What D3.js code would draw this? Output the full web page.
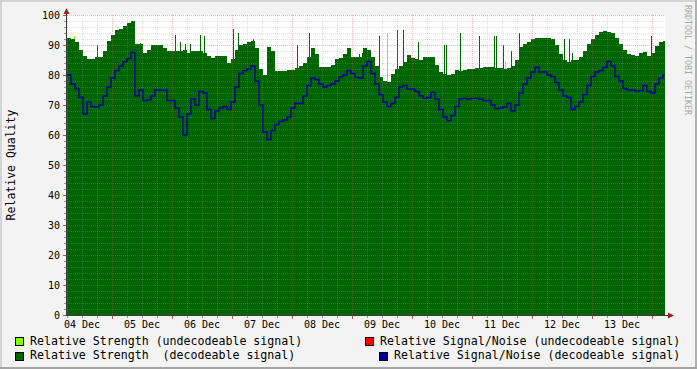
<!DOCTYPE html>
<html><head><meta charset="utf-8">
<script src="https://cdn.jsdelivr.net/npm/d3@7"></script>
<style>
body{margin:0;background:#f3f3f3}
svg{display:block}
text{font-family:"DejaVu Sans Mono",monospace}
</style>
</head><body>
<svg id="c" width="697" height="369"></svg>
<script>
// ---- data ----
const startTime = "2008-12-04T06:00:00Z";
const endTime = "2008-12-14T05:12:00Z";
const stepMinutes = 96;

// Relative Strength (decodeable signal), one value per 96-minute step
const strength = [
  92.5, 92, 91, 88.5, 86.5, 85.2, 85.2, 86, 86, 88,
  91.5, 93.3, 95, 95.5, 96.5, 97.2, 98, 90.5, 90.5, 87.5,
  88.3, 90, 90, 90, 89, 88, 88, 88, 88, 88.3,
  87.5, 88, 88, 88, 87.5, 86.5, 85.8, 86.5, 86.5, 86.5,
  84, 85.5, 88.5, 90, 90.5, 91, 91.5, 89, 82, 80,
  89.5, 88, 81.3, 81.3, 81.5, 81.8, 81.8, 82.5, 83, 84,
  86, 89, 87, 82.8, 82.7, 82.7, 83.5, 85.5, 85.6, 87,
  89, 86, 86, 86, 89, 88.5, 86, 83, 79.5, 78,
  77.8, 80.5, 82, 83, 84.5, 86.8, 85.8, 85.3, 85, 86,
  86, 86, 83.5, 81, 80.5, 80, 80.5, 81.6, 81.3, 81.8,
  82, 82, 82.2, 82.5, 82.8, 82.8, 82.8, 82.5, 82.5, 82,
  82.5, 83, 85, 89.5, 90.5, 91, 92, 92.3, 92.5, 92.5,
  92.5, 92, 90, 87, 85, 84.5, 85, 85, 86, 88,
  90.5, 92, 93.5, 94.5, 94.8, 94.5, 94, 92.5, 90.5, 88.5,
  87, 86.8, 86.5, 87.5, 87.8, 86.5, 87.5, 89.8, 91, 91.5
];

// Relative Signal/Noise (decodeable signal), one value per 96-minute step
const signalNoise = [
  80, 77, 75.5, 72.5, 67, 71, 69.5, 69.4, 70, 73,
  76, 79, 81.5, 83, 84.4, 85.5, 87.5, 73, 75, 71.5,
  71.7, 73, 75, 75, 75, 71.5, 71.5, 69, 66, 60,
  67, 72, 70, 74.5, 74, 68.5, 65.5, 68, 69, 69.5,
  68.5, 71, 76, 80.5, 81.5, 82, 83, 78, 70, 61,
  58.5, 61.5, 63.5, 64.5, 65, 66, 69, 70.5, 70.5, 73,
  76.5, 79, 78.5, 77, 76, 76.5, 77, 78, 79.4, 80,
  81.5, 80.5, 79.3, 79, 83, 84.5, 80.5, 77, 73.5, 71,
  69.5, 70.5, 72.5, 76, 76.5, 75.3, 75.3, 74.5, 73, 72.2,
  72.5, 74.2, 72, 68.5, 66, 64.8, 66.5, 69.5, 72, 72.2,
  72, 72.2, 72.2, 72, 71.5, 71.5, 70, 68.8, 69, 69.4,
  70.5, 68, 70, 74, 77, 79, 81, 82.5, 81, 81,
  80, 79.5, 77.5, 75, 73, 72.5, 68.5, 69.5, 71, 73.5,
  76.5, 79.5, 81, 81.5, 82.5, 84.5, 83, 79.5, 78, 75.5,
  75, 75, 74.7, 74.7, 76.5, 74.5, 74, 77, 79, 80
];

// short single-sample peaks of decodeable strength
const strengthSpikes = [
  ["2008-12-04T18:00Z", 90], ["2008-12-05T11:12Z", 90.6], ["2008-12-06T01:12Z", 93.3],
  ["2008-12-06T03:12Z", 91], ["2008-12-06T05:12Z", 90.5], ["2008-12-06T07:12Z", 90.5],
  ["2008-12-06T11:12Z", 93.3], ["2008-12-06T12:48Z", 93], ["2008-12-07T00:24Z", 95.2],
  ["2008-12-07T02:24Z", 94], ["2008-12-07T08:24Z", 92], ["2008-12-08T02:00Z", 90],
  ["2008-12-08T06:48Z", 94.1], ["2008-12-09T02:48Z", 87], ["2008-12-09T04:00Z", 87.5],
  ["2008-12-09T10:48Z", 93], ["2008-12-09T18:00Z", 95], ["2008-12-09T20:24Z", 95],
  ["2008-12-10T02:24Z", 91], ["2008-12-10T12:48Z", 90], ["2008-12-10T13:36Z", 90],
  ["2008-12-10T19:12Z", 94], ["2008-12-11T02:48Z", 93], ["2008-12-11T08:48Z", 93],
  ["2008-12-11T09:36Z", 93], ["2008-12-11T12:24Z", 90], ["2008-12-11T15:36Z", 88],
  ["2008-12-11T18:48Z", 94], ["2008-12-12T12:48Z", 92], ["2008-12-12T14:48Z", 92],
  ["2008-12-12T16:00Z", 87.5], ["2008-12-13T23:36Z", 93]
];

// Relative Strength (undecodeable signal)
const undecodeableStrength = [
  ["2008-12-04T08:48Z", 93], ["2008-12-09T06:24Z", 88], ["2008-12-09T14:00Z", 94],
  ["2008-12-11T13:12Z", 84.4]
];

const yTicks = [0, 10, 20, 30, 40, 50, 60, 70, 80, 90, 100];
const yTitle = "Relative Quality";
const watermark = "RRDTOOL / TOBI OETIKER";
const legendLeft = [
  {label: "Relative Strength (undecodeable signal)", color: "#80ff00"},
  {label: "Relative Strength  (decodeable signal)", color: "#006400"}
];
const legendRight = [
  {label: "Relative Signal/Noise (undecodeable signal)", color: "#ff0000"},
  {label: "Relative Signal/Noise (decodeable signal)", color: "#000099"}
];

// ---- drawing ----
const svg = d3.select("#c");
const W = 697, H = 369;
const L = 67, R = 665, T = 15, B = 315;
const t0 = new Date(startTime), t1 = new Date(endTime);
const x = d3.scaleUtc().domain([t0, t1]).range([L, R]);
const y = d3.scaleLinear().domain([0, 100]).range([B, T]);
const stepMs = stepMinutes * 60000;
const pixMs = 24 * 60000;

// frame
svg.append("rect").attr("width", W).attr("height", H).attr("fill", "#f3f3f3");
svg.append("rect").attr("x", 0).attr("y", 0).attr("width", W).attr("height", 2).attr("fill", "#d4d4d4");
svg.append("rect").attr("x", 0).attr("y", 0).attr("width", 2).attr("height", H).attr("fill", "#d4d4d4");
svg.append("rect").attr("x", W - 2).attr("y", 0).attr("width", 2).attr("height", H).attr("fill", "#b0b0b0");
svg.append("rect").attr("x", 0).attr("y", H - 2).attr("width", W).attr("height", 2).attr("fill", "#a4a4a4");

// canvas
svg.append("rect").attr("x", L).attr("y", T).attr("width", R - L).attr("height", B - T).attr("fill", "#ffffff");

const toPts = arr => {
  const pts = arr.map((v, i) => ({t: new Date(+t0 + i * stepMs), v}));
  pts.push({t: t1, v: arr[arr.length - 1]});
  return pts;
};
const sPts = toPts(strength);
const nPts = toPts(signalNoise);

// undecodeable strength (behind)
svg.append("g").selectAll("rect").data(undecodeableStrength).join("rect")
  .attr("x", d => x(new Date(d[0])))
  .attr("width", d => Math.max(1, x(new Date(+new Date(d[0]) + pixMs)) - x(new Date(d[0]))))
  .attr("y", d => y(d[1])).attr("height", d => y(0) - y(d[1]))
  .attr("fill", legendLeft[0].color).attr("shape-rendering", "crispEdges");

// decodeable strength area
svg.append("path").datum(sPts)
  .attr("d", d3.area().curve(d3.curveStepAfter).x(d => x(d.t)).y0(y(0)).y1(d => y(d.v)))
  .attr("fill", legendLeft[1].color).attr("shape-rendering", "crispEdges");

svg.append("g").selectAll("rect").data(strengthSpikes).join("rect")
  .attr("x", d => x(new Date(d[0])))
  .attr("width", d => Math.max(1, x(new Date(+new Date(d[0]) + pixMs)) - x(new Date(d[0]))))
  .attr("y", d => y(d[1])).attr("height", d => y(0) - y(d[1]))
  .attr("fill", legendLeft[1].color).attr("shape-rendering", "crispEdges");

// grid
const g = svg.append("g").attr("shape-rendering", "crispEdges");
const minorY = d3.range(0, 101, 2).filter(v => v % 10 !== 0);
const majorY = yTicks.filter(v => v > 0);
const minorCol = "rgba(150,150,150,0.3)", majorCol = "rgba(222,80,80,0.4)";
g.selectAll(".hm").data(minorY).join("line")
  .attr("x1", L).attr("x2", R).attr("y1", d => Math.round(y(d)) + 0.5).attr("y2", d => Math.round(y(d)) + 0.5)
  .attr("stroke", minorCol).attr("stroke-dasharray", "1,1");
const minorX = d3.utcHour.every(6).range(t0, t1).filter(t => t.getUTCHours() !== 0);
const majorX = d3.utcDay.range(t0, t1);
g.selectAll(".vm").data(minorX).join("line")
  .attr("y1", T).attr("y2", B).attr("x1", d => Math.round(x(d)) + 0.5).attr("x2", d => Math.round(x(d)) + 0.5)
  .attr("stroke", minorCol).attr("stroke-dasharray", "1,1");
g.selectAll(".hM").data(majorY).join("line")
  .attr("x1", L).attr("x2", R).attr("y1", d => Math.round(y(d)) + 0.5).attr("y2", d => Math.round(y(d)) + 0.5)
  .attr("stroke", majorCol).attr("stroke-dasharray", "1,1");
g.selectAll(".vM").data(majorX).join("line")
  .attr("y1", T).attr("y2", B).attr("x1", d => Math.round(x(d)) + 0.5).attr("x2", d => Math.round(x(d)) + 0.5)
  .attr("stroke", majorCol).attr("stroke-dasharray", "1,1");

// S/N line
svg.append("path").datum(nPts)
  .attr("d", d3.line().curve(d3.curveStepAfter).x(d => x(d.t)).y(d => y(d.v)))
  .attr("fill", "none").attr("stroke", legendRight[1].color).attr("stroke-width", 1.4);

// axes
const ax = svg.append("g").attr("shape-rendering", "crispEdges");
ax.append("line").attr("x1", L - 0.5).attr("x2", L - 0.5).attr("y1", B + 1).attr("y2", T - 5).attr("stroke", "#3a3a3a");
ax.append("line").attr("x1", L - 4).attr("x2", R + 5).attr("y1", B + 0.5).attr("y2", B + 0.5).attr("stroke", "#3a3a3a");
// y ticks
ax.selectAll(".ytm").data(minorY).join("line")
  .attr("x1", L - 3).attr("x2", L - 1).attr("y1", d => Math.round(y(d)) + 0.5).attr("y2", d => Math.round(y(d)) + 0.5)
  .attr("stroke", "#999");
ax.selectAll(".ytM").data(yTicks).join("line")
  .attr("x1", L - 4).attr("x2", L - 1).attr("y1", d => Math.round(y(d)) + 0.5).attr("y2", d => Math.round(y(d)) + 0.5)
  .attr("stroke", "#b05050");
// x ticks
ax.selectAll(".xtm").data(minorX).join("line")
  .attr("y1", B + 1).attr("y2", B + 3).attr("x1", d => Math.round(x(d)) + 0.5).attr("x2", d => Math.round(x(d)) + 0.5)
  .attr("stroke", "#999");
ax.selectAll(".xtM").data(majorX).join("line")
  .attr("y1", B + 1).attr("y2", B + 4).attr("x1", d => Math.round(x(d)) + 0.5).attr("x2", d => Math.round(x(d)) + 0.5)
  .attr("stroke", "#d05050");
// arrows
svg.append("path").attr("d", `M${L - 3.5},${T - 1}L${L + 2.5},${T - 1}L${L - 0.5},${T - 7}Z`).attr("fill", "#9a1f1f");
svg.append("path").attr("d", `M${R + 3},${B - 2.5}L${R + 3},${B + 3.5}L${R + 9},${B + 0.5}Z`).attr("fill", "#9a1f1f");

// y labels
svg.append("g").selectAll("text").data(yTicks).join("text")
  .attr("x", 60).attr("y", d => y(d)).attr("dy", "0.36em").attr("text-anchor", "end")
  .attr("font-size", "10px").attr("fill", "#000").text(d => d);
// x labels (centered at noon, rrdtool style)
const fmt = d3.utcFormat("%d %b");
const dayLabels = d3.utcDay.range(d3.utcDay.floor(t0), t1)
  .filter(d => { const p = x(new Date(+d + 12 * 3600000)); return p >= L && p <= R; });
svg.append("g").selectAll("text").data(dayLabels).join("text")
  .attr("x", d => x(new Date(+d + 12 * 3600000))).attr("y", 328).attr("text-anchor", "middle")
  .attr("font-size", "10px").attr("fill", "#000").text(d => fmt(d));

// y title
svg.append("text").attr("transform", "translate(15,165) rotate(-90)").attr("text-anchor", "middle")
  .attr("font-size", "11.5px").attr("fill", "#000").text(yTitle);
// watermark
svg.append("text").attr("transform", "translate(685,60) rotate(90)").attr("text-anchor", "middle")
  .attr("font-size", "8.3px").attr("fill", "#a8a8a8").text(watermark);

// legend
const leg = svg.append("g");
const legPos = [
  {item: legendLeft[0], sx: 15, sy: 337, tx: 30, ty: 344.5},
  {item: legendLeft[1], sx: 15, sy: 352, tx: 30, ty: 359},
  {item: legendRight[0], sx: 365, sy: 337, tx: 380, ty: 344.5},
  {item: legendRight[1], sx: 379, sy: 352, tx: 394, ty: 359}
];
legPos.forEach(p => {
  leg.append("rect").attr("x", p.sx + 0.5).attr("y", p.sy + 0.5).attr("width", 8).attr("height", 8)
    .attr("fill", p.item.color).attr("stroke", "#000").attr("stroke-width", 1).attr("shape-rendering", "crispEdges");
  leg.append("text").attr("x", p.tx).attr("y", p.ty).attr("font-size", "11.6px").attr("fill", "#000")
    .attr("xml:space", "preserve").style("white-space", "pre").text(p.item.label);
});
</script>
</body></html>
